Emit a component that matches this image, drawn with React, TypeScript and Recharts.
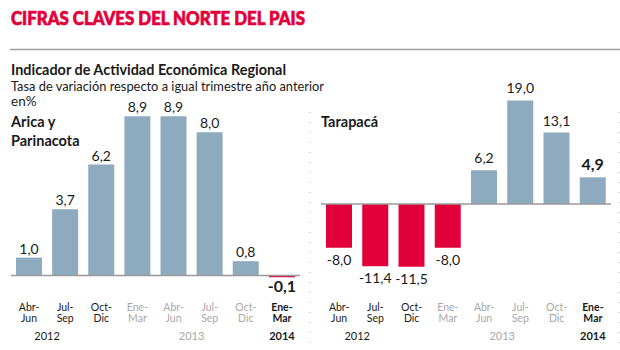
import { BarChart, Bar, XAxis, YAxis, Cell, LabelList, ReferenceLine } from 'recharts';

const W = 620;
const H = 350;

// quarter labels (two lines) and emphasis for each category
const quarterTop = ['Abr-', 'Jul-', 'Oct-', 'Ene-', 'Abr-', 'Jul-', 'Oct-', 'Ene-'];
const quarterBottom = ['Jun', 'Sep', 'Dic', 'Mar', 'Jun', 'Sep', 'Dic', 'Mar'];
const tones = ['dark', 'dark', 'dark', 'light', 'light', 'light', 'light', 'bold'];

// year labels: position is in category units from the first category
const years = [
  { label: '2012', pos: 0.5, tone: 'dark' },
  { label: '2013', pos: 4.5, tone: 'light' },
  { label: '2014', pos: 7, tone: 'bold' },
];

const aricaValues = [1.0, 3.7, 6.2, 8.9, 8.9, 8.0, 0.8, -0.1];
const tarapacaValues = [-8.0, -11.4, -11.5, -8.0, 6.2, 19.0, 13.1, 4.9];

const BLUE = '#8eaabe';
const RED = '#e2003a';
const DARK = '#1a1a1a';
const LIGHT = '#a8a8a8';
const FONT = 'Lato, "Open Sans", sans-serif';

const toRows = (vals: number[]) => vals.map((v, i) => ({ q: `${quarterTop[i]}${quarterBottom[i]}`, v, i }));
const fmt = (v: number) => (v < 0 ? '-' : '') + Math.abs(v).toFixed(1).replace('.', ',');

const makeTick = (band: number) => (props: any) => {
  const { x, y, index } = props;
  const tone = tones[index];
  const fill = tone === 'light' ? LIGHT : DARK;
  const weight = tone === 'bold' ? 700 : 400;
  const yr = years.find((yy) => Math.floor(yy.pos) === index);
  return (
    <g>
      <text x={x} y={y + 10.5} textAnchor="middle" fontSize={10.5} fill={fill} fontWeight={weight} fontFamily={FONT}>
        {quarterTop[index]}
      </text>
      <text x={x} y={y + 22} textAnchor="middle" fontSize={10.5} fill={fill} fontWeight={weight} fontFamily={FONT}>
        {quarterBottom[index]}
      </text>
      {yr && (
        <text
          x={x + (yr.pos - Math.floor(yr.pos)) * band}
          y={y + 40}
          textAnchor="middle"
          fontSize={11}
          fill={yr.tone === 'light' ? LIGHT : DARK}
          fontWeight={yr.tone === 'bold' ? 700 : 400}
          fontFamily={FONT}
        >
          {yr.label}
        </text>
      )}
    </g>
  );
};

const makeValueLabel = (gapAbove: number) => (props: any) => {
  const { x, y, width, height, value, index } = props;
  const top = Math.min(y, y + height);
  const bottom = Math.max(y, y + height);
  const bold = tones[index] === 'bold';
  const size = bold ? 16 : 14;
  const ty = value >= 0 ? top - gapAbove : bottom + (bold ? 15 : 17);
  return (
    <text
      x={x + width / 2}
      y={ty}
      textAnchor="middle"
      fontSize={size}
      fontWeight={bold ? 700 : 400}
      fill={DARK}
      fontFamily={FONT}
    >
      {fmt(value)}
    </text>
  );
};

const Panel = ({
  values,
  left,
  right,
  top,
  domain,
  gapAbove,
}: {
  values: number[];
  left: number;
  right: number;
  top: number;
  domain: [number, number];
  gapAbove: number;
}) => {
  const band = (W - left - right) / values.length;
  return (
    <div style={{ position: 'absolute', left: 0, top: 0, pointerEvents: 'none' }}>
      <BarChart width={W} height={H} data={toRows(values)} margin={{ top, right, bottom: 0, left }} barSize={26}>
        <XAxis
          dataKey="q"
          axisLine={false}
          tickLine={false}
          tickSize={0}
          tickMargin={0}
          height={50}
          interval={0}
          tick={makeTick(band)}
        />
        <YAxis hide domain={domain} allowDataOverflow />
        <Bar dataKey="v" isAnimationActive={false}>
          {values.map((v, i) => (
            <Cell key={i} fill={v < 0 ? RED : BLUE} />
          ))}
          <LabelList dataKey="v" content={makeValueLabel(gapAbove)} />
        </Bar>
        <ReferenceLine y={0} stroke="#9a9a9a" strokeWidth={1.5} />
      </BarChart>
    </div>
  );
};

export default function App() {
  return (
    <div style={{ position: 'absolute', left: 0, top: 0, width: W, height: H, background: '#fff', overflow: 'hidden' }}>
      <svg width={W} height={H} style={{ position: 'absolute', left: 0, top: 0 }}>
        <text
          x={11}
          y={25}
          fontSize={19}
          fontWeight={900}
          fill={RED}
          stroke={RED}
          strokeWidth={0.7}
          fontFamily={FONT}
          textLength={294}
          lengthAdjust="spacingAndGlyphs"
        >
          CIFRAS CLAVES DEL NORTE DEL PAIS
        </text>
        <line x1={10} x2={620} y1={49.5} y2={49.5} stroke="#a0a0a0" strokeWidth={1.5} />
        <text x={11} y={75} fontSize={15} fontWeight={700} fill={DARK} fontFamily={FONT} textLength={275} lengthAdjust="spacingAndGlyphs">
          Indicador de Actividad Económica Regional
        </text>
        <text x={11} y={90.5} fontSize={13.5} fill={DARK} fontFamily={FONT} textLength={313} lengthAdjust="spacingAndGlyphs">
          Tasa de variación respecto a igual trimestre año anterior
        </text>
        <text x={11} y={106} fontSize={13.5} fill={DARK} fontFamily={FONT}>
          en%
        </text>
        <text x={11} y={127} fontSize={14.5} fontWeight={700} fill={DARK} fontFamily={FONT}>
          Arica y
        </text>
        <text x={11} y={146} fontSize={14.5} fontWeight={700} fill={DARK} fontFamily={FONT}>
          Parinacota
        </text>
        <text x={321} y={127} fontSize={14.5} fontWeight={700} fill={DARK} fontFamily={FONT}>
          Tarapacá
        </text>
        <line x1={310} x2={310} y1={112} y2={346} stroke="#b0b0b0" strokeWidth={1} strokeDasharray="1 9" />
        <line x1={619} x2={619} y1={112} y2={346} stroke="#b0b0b0" strokeWidth={1} strokeDasharray="1 9" />
      </svg>
      <Panel values={aricaValues} left={11} right={320} top={96.5} domain={[-1.37, 10]} gapAbove={4} />
      <Panel values={tarapacaValues} left={321} right={9} top={95} domain={[-17.6, 20]} gapAbove={7} />
    </div>
  );
}
